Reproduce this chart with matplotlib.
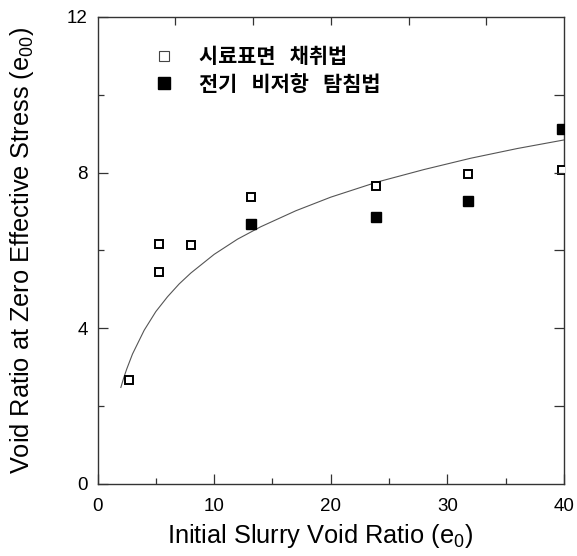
import matplotlib
matplotlib.use('Agg')
import matplotlib.pyplot as plt
from matplotlib.lines import Line2D

# 시료표면 채취법 (open squares)
surf_x = [2.7, 5.3, 5.3, 8.0, 13.2, 23.9, 31.8, 39.8]
surf_y = [2.67, 5.44, 6.16, 6.14, 7.37, 7.66, 7.97, 8.08]

# 전기 비저항 탐침법 (filled squares)
res_x = [13.2, 23.9, 31.8, 39.8]
res_y = [6.69, 6.86, 7.27, 9.11]

# trend curve through the data
curve_x = [2.0, 2.25, 2.5, 3.0, 4.0, 5.0, 6.0, 7.0, 8.0, 10.0, 12.0, 14.0,
           17.0, 20.0, 24.0, 28.0, 32.0, 36.0, 40.0]
curve_y = [2.48, 2.73, 2.95, 3.34, 3.95, 4.43, 4.81, 5.14, 5.42, 5.90, 6.29,
           6.61, 7.02, 7.37, 7.76, 8.08, 8.37, 8.62, 8.84]

x_ticks = [0, 10, 20, 30, 40]
y_ticks = [0, 4, 8, 12]
labels = ['시료표면   채취법', '전기   비저항   탐침법']

plt.rcParams['font.family'] = ['Liberation Sans', 'DejaVu Sans']
plt.rcParams['mathtext.fontset'] = 'custom'
plt.rcParams['mathtext.rm'] = 'Liberation Sans'
plt.rcParams['mathtext.it'] = 'Liberation Sans'

frame = '#333333'

fig = plt.figure(figsize=(5.77, 5.56), dpi=100)
ax = fig.add_axes([0.169, 0.1295, 0.8085, 0.84])

ax.plot(curve_x, curve_y, color='#555555', linewidth=0.8, zorder=2)
ax.plot(surf_x, surf_y, linestyle='none', marker='s', markersize=5.9,
        markerfacecolor='white', markeredgecolor='black',
        markeredgewidth=1.4, zorder=3)
ax.plot(res_x, res_y, linestyle='none', marker='s', markersize=6.9,
        markerfacecolor='black', markeredgecolor='black', zorder=3)

ax.set_xlim(0, 40)
ax.set_ylim(0, 12)
ax.set_xticks(x_ticks)
ax.set_yticks(y_ticks)
ax.set_xticks([5, 15, 25, 35], minor=True)
ax.set_yticks([2, 6, 10], minor=True)
ax.tick_params(which='both', direction='in', top=False, right=False,
               colors=frame, labelcolor='black', labelsize=13.5)
ax.tick_params(which='major', length=7, width=0.9)
ax.tick_params(which='minor', length=4, width=0.9)
ax.tick_params(axis='y', pad=7)
ax.tick_params(axis='x', pad=10)
for s in ax.spines.values():
    s.set_color(frame)
    s.set_linewidth(1.0)

ax.set_xlabel('Initial Slurry Void Ratio (e$_0$)', fontsize=18.3, labelpad=5)
ax.xaxis.label.set_x(0.477)
ax.set_ylabel('Void Ratio at Zero Effective Stress (e$_{00}$)', fontsize=18.3,
              labelpad=22)

# top and right axes carry plain tick marks only
ax_top = ax.twiny()
ax_top.set_xlim(0, 6)
ax_top.set_xticks([1, 2, 3, 4, 5])
ax_top.tick_params(direction='in', length=6, width=0.9, colors=frame,
                   labeltop=False)
ax_right = ax.twinx()
ax_right.set_ylim(0, 12)
ax_right.set_yticks([2, 4, 6, 8, 10])
ax_right.tick_params(direction='in', length=7, width=0.9, colors=frame,
                     labelright=False)
for a in (ax_top, ax_right):
    for s in a.spines.values():
        s.set_visible(False)

handles = [
    Line2D([0], [0], linestyle='none', marker='s', markersize=7.3,
           markerfacecolor='white', markeredgecolor='#444444',
           markeredgewidth=0.8),
    Line2D([0], [0], linestyle='none', marker='s', markersize=8.2,
           markerfacecolor='black', markeredgecolor='black'),
]
leg = ax.legend(handles, labels, loc='upper left', bbox_to_anchor=(0.080, 0.955),
                borderaxespad=0, frameon=False, handletextpad=0.7,
                labelspacing=0.3,
                prop={'family': 'Noto Sans CJK KR', 'weight': 'bold',
                      'size': 15})

fig.savefig('out.png', dpi=100)
